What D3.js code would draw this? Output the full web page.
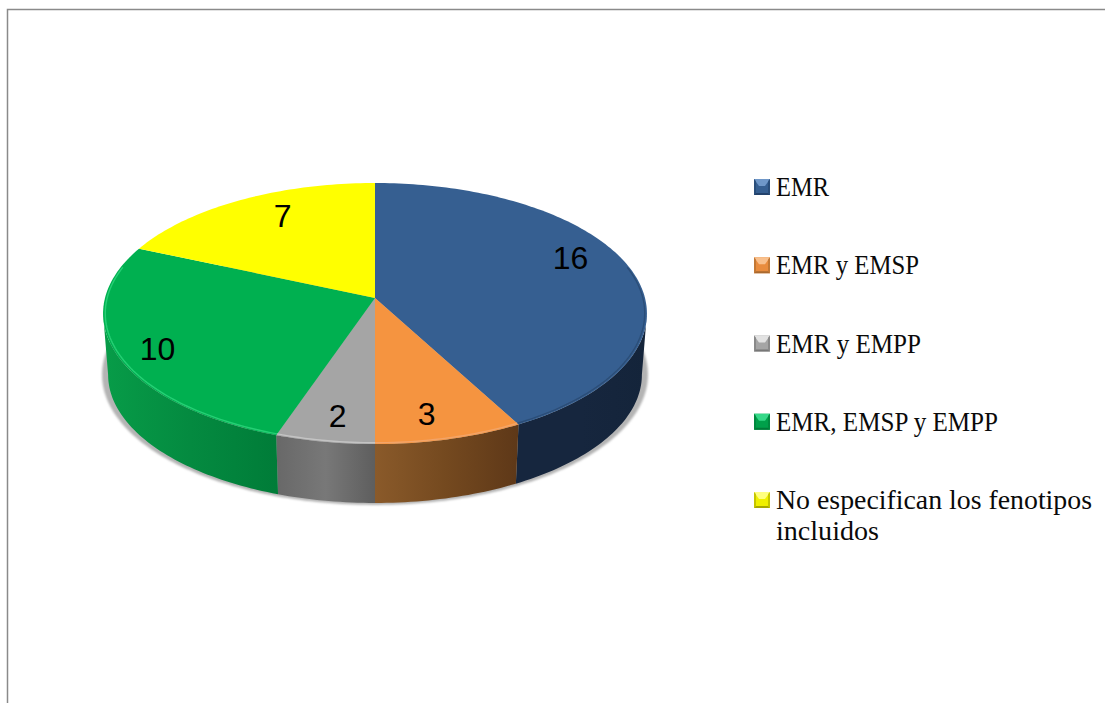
<!DOCTYPE html>
<html><head><meta charset="utf-8">
<style>html,body{margin:0;padding:0;background:#fff;overflow:hidden}svg{display:block}</style>
<script src="https://cdn.jsdelivr.net/npm/d3@7"></script></head>
<body><svg id="c" width="1105" height="703"></svg>
<script>
const categories = ["EMR","EMR y EMSP","EMR y EMPP","EMR, EMSP y EMPP","No especifican los fenotipos incluidos"];
const legendLines = [["EMR"],["EMR y EMSP"],["EMR y EMPP"],["EMR, EMSP y EMPP"],["No especifican los fenotipos","incluidos"]];
const values = [16,3,2,10,7];
const topColors = ["#365f91","#f59440","#a5a5a5","#00b050","#ffff00"];
const rimColors = ["#2c4e78","#f3a468","#c4c4c4","#25cf74","#ffff66"];
const sideStops = [["#16263e","#16263e","#14243a"],["#8a5a2a","#74491f","#5e3818"],["#686868","#787878","#5e5e5e"],["#079c48","#048a40","#007c38"],["#999900","#999900","#999900"]];
const markerColors = [["#6f97c8","#365f91","#23426b"],["#f9c08d","#e98c3e","#a96a30"],["#e2e2e2","#a5a5a5","#777777"],["#35d888","#00a04a","#007a38"],["#ffff80","#f0f000","#a8a800"]];
const legendWidths = [[53],[143],[145],[222],[316,103]];

const svg = d3.select("#c");
const defs = svg.append("defs");
defs.append("filter").attr("id","soft").attr("x","-5%").attr("y","-5%").attr("width","110%").attr("height","110%")
  .append("feGaussianBlur").attr("stdDeviation",1.2);
defs.append("filter").attr("id","rim").attr("x","-5%").attr("y","-5%").attr("width","110%").attr("height","110%")
  .append("feGaussianBlur").attr("stdDeviation",0.7);

// frame
svg.append("path").attr("d","M7.5,703V9.5H1105").attr("fill","none").attr("stroke","#8a8a8a").attr("stroke-width",1.5);

// perspective disc projection
const K = 0.119;
const cx = 375;
function disc(A,B,cy){
  return (angle,r=1)=>{
    const u=Math.sin(angle)*r, v=-Math.cos(angle)*r, w=1-K*v;
    return [cx+A*u/w, cy+B*v/w];
  };
}
const topDisc = disc(270,128.7,298);
const baseDisc = disc(265,126.4,359.5);
const shadowDisc = disc(271,128.4,359.2);

const pie = d3.pie().sort(null).value(d=>d)(values);
const line = d3.line();
const arcPts=(p,a0,a1)=>{
  const n=Math.max(2,Math.ceil((a1-a0)/0.02));
  return d3.range(n+1).map(i=>p(a0+(a1-a0)*i/n));
};

// shadow
svg.append("path").attr("d",line(arcPts(shadowDisc,0,2*Math.PI))+"Z")
  .attr("fill","#b4b4b4").attr("filter","url(#soft)");

// sides
const visA0 = Math.PI/2+Math.atan(K), visA1 = 3*Math.PI/2-Math.atan(K);
pie.forEach((s,i)=>{
  const a0=Math.max(s.startAngle,visA0), a1=Math.min(s.endAngle,visA1);
  if(a1<=a0) return;
  const id="side"+i;
  const g=defs.append("linearGradient").attr("id",id);
  sideStops[i].forEach((c,k)=>g.append("stop").attr("offset",k/2).attr("stop-color",c));
  const pts=arcPts(topDisc,a0,a1).concat(arcPts(baseDisc,a0,a1).reverse());
  svg.append("path").attr("d",line(pts)+"Z").attr("fill",`url(#${id})`);
});

// top faces
pie.forEach((s,i)=>{
  const pts=[topDisc(0,0)].concat(arcPts(topDisc,s.startAngle,s.endAngle));
  svg.append("path").attr("d",line(pts)+"Z").attr("fill",topColors[i]);
});
// front rim highlight
pie.forEach((s,i)=>{
  const a0=Math.max(s.startAngle,Math.PI/2-0.25), a1=Math.min(s.endAngle,3*Math.PI/2+0.25);
  if(a1<=a0) return;
  svg.append("path").attr("d",line(arcPts((a)=>topDisc(a,0.992),a0,a1)))
    .attr("fill","none").attr("stroke",rimColors[i]).attr("stroke-width",1.4).attr("filter","url(#rim)");
});

// data labels
const labelNudge=[[-19,-14],[-10,0],[4,0],[-1,6],[22,2]];
pie.forEach((s,i)=>{
  const p=topDisc((s.startAngle+s.endAngle)/2,0.84);
  svg.append("text").attr("x",p[0]+labelNudge[i][0]).attr("y",p[1]+labelNudge[i][1])
    .attr("text-anchor","middle").attr("dominant-baseline","central")
    .attr("font-family","'Liberation Sans',Arial,sans-serif").attr("font-size",32).attr("fill","#000")
    .text(values[i]);
});

// legend
const rowY = d3.scalePoint().domain(d3.range(categories.length)).range([187,500]);
const lg = svg.append("g");
categories.forEach((c,i)=>{
  const y=rowY(i), x0=754, s=16, y0=y-8;
  const col=markerColors[i];
  lg.append("rect").attr("x",x0).attr("y",y0).attr("width",s).attr("height",s).attr("fill",col[1]);
  lg.append("path").attr("d",`M${x0},${y0}H${x0+s}L${x0+s-5},${y0+7}H${x0+5}Z`).attr("fill",col[0]);
  lg.append("path").attr("d",`M${x0},${y0+s}H${x0+s}L${x0+s-2},${y0+s-2}H${x0+2}Z`).attr("fill",col[2]);
  lg.append("path").attr("d",`M${x0},${y0}L${x0+2},${y0+2}V${y0+s-2}L${x0},${y0+s}ZM${x0+s},${y0}L${x0+s-2},${y0+2}V${y0+s-2}L${x0+s},${y0+s}Z`).attr("fill",col[2]).attr("opacity",0.6);
  const t=lg.append("text").attr("font-family","'Liberation Serif',Cambria,serif").attr("font-size",27).attr("fill","#0a0a0a");
  legendLines[i].forEach((l,k)=>{
    t.append("tspan").attr("x",776).attr("y",y+9+k*30.5)
      .attr("textLength",legendWidths[i][k]).attr("lengthAdjust","spacingAndGlyphs").text(l);
  });
});
</script></body></html>
